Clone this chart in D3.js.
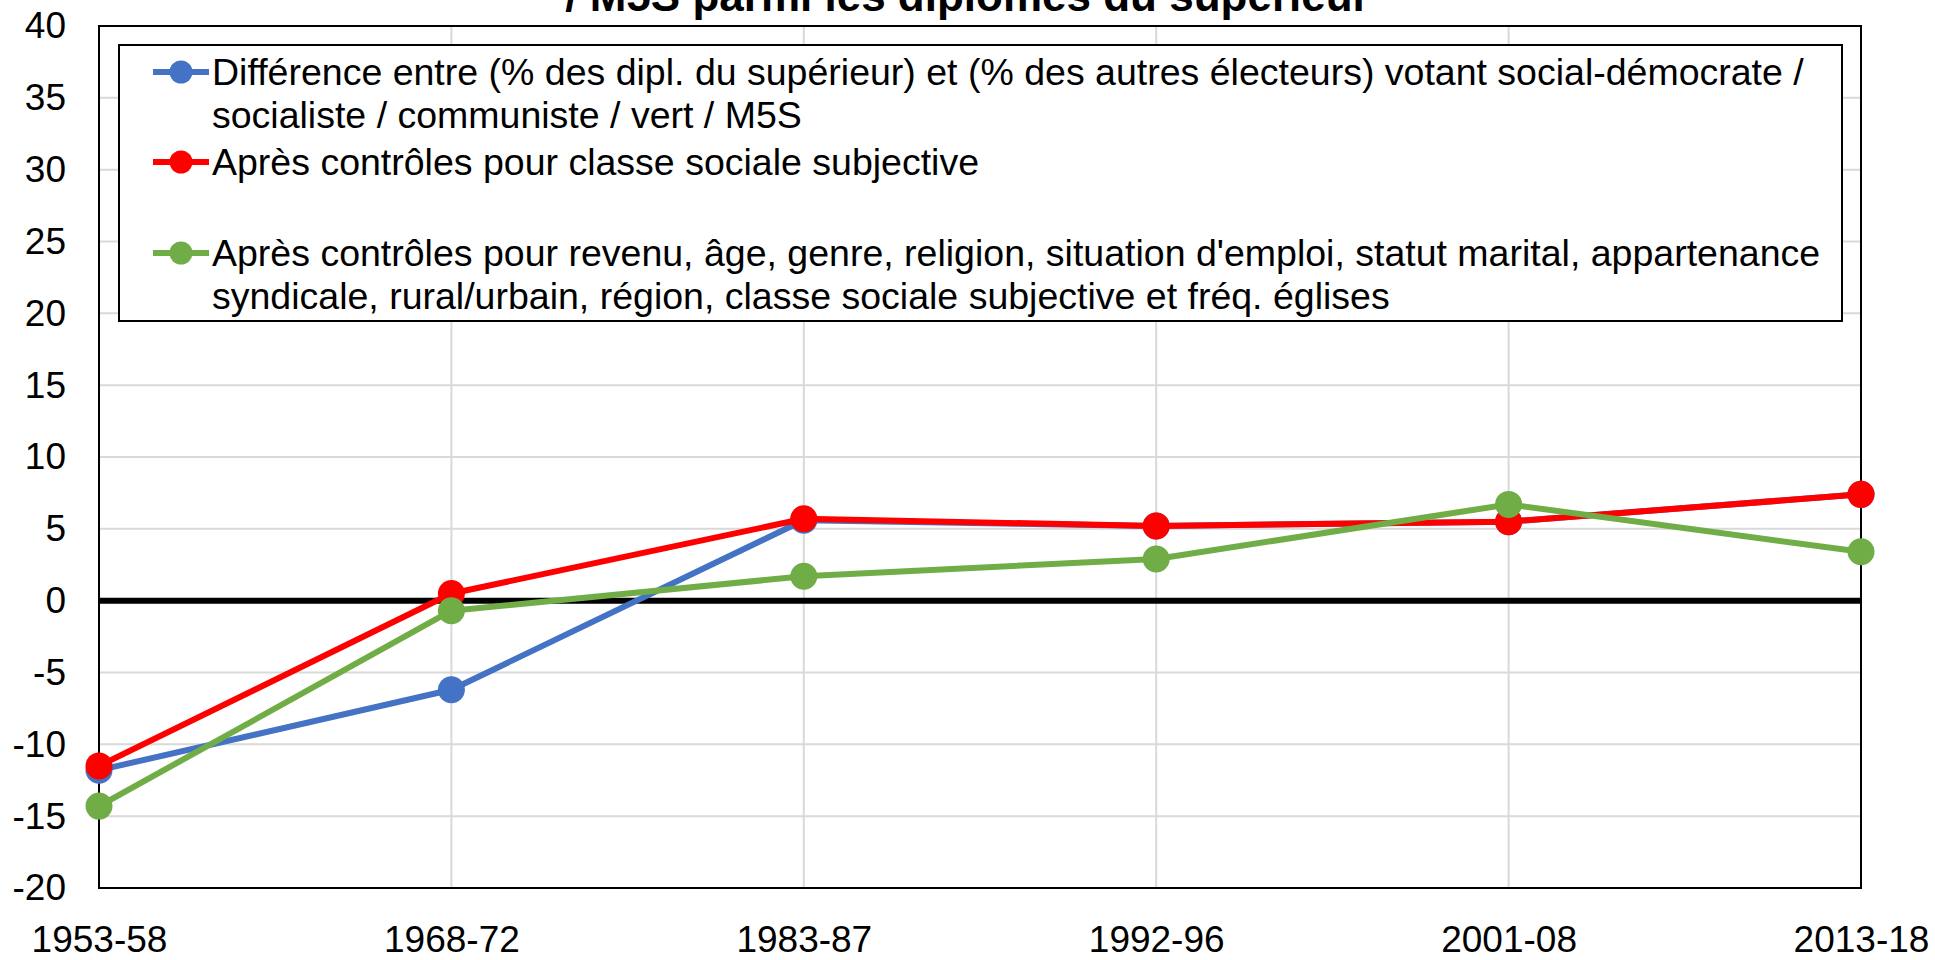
<!DOCTYPE html>
<meta charset="utf-8">
<style>
  body { margin: 0; background: #fff; }
  svg { display: block; font-family: "Liberation Sans", Arial, sans-serif; }
  .grid line { stroke: #d9d9d9; stroke-width: 2; }
  .tick-label { font-size: 37px; fill: #000; }
  .legend text { font-size: 37.5px; fill: #000; }
</style>
<body>
<script src="https://cdnjs.cloudflare.com/ajax/libs/d3/7.8.5/d3.min.js"></script>
<script>
  var periods = ["1953-58", "1968-72", "1983-87", "1992-96", "2001-08", "2013-18"]
  var yTicks = [-20, -15, -10, -5, 0, 5, 10, 15, 20, 25, 30, 35, 40]

  // ecart (points de %) entre dipl. du superieur et autres electeurs
  var brut = [-11.8, -6.2, 5.6, 5.2, 5.5, 7.4]
  var ctrlClasse = [-11.5, 0.5, 5.7, 5.2, 5.5, 7.4]
  var ctrlTout = [-14.3, -0.7, 1.7, 2.9, 6.7, 3.4]

  var titleLines = ["Le vote social-démocrate / socialiste / communiste / vert",
    "/ M5S parmi les diplômés du supérieur"]

  var series = [
    { values: brut, color: "#4472C4",
      label: ["Différence entre (% des dipl. du supérieur) et (% des autres électeurs) votant social-démocrate /",
        "socialiste / communiste / vert / M5S"] },
    { values: ctrlClasse, color: "#FF0000",
      label: ["Après contrôles pour classe sociale subjective"] },
    { values: ctrlTout, color: "#70AD47",
      label: ["Après contrôles pour revenu, âge, genre, religion, situation d'emploi, statut marital, appartenance",
        "syndicale, rural/urbain, région, classe sociale subjective et fréq. églises"] }
  ]

  var width = 1935
  var height = 960
  var margin = { top: 26, right: 74, bottom: 72, left: 99 }

  var svg = d3.select("body").append("svg")
    .attr("width", width)
    .attr("height", height)

  var x = d3.scalePoint()
    .domain(periods)
    .range([margin.left, width - margin.right])

  var y = d3.scaleLinear()
    .domain([-20, 40])
    .range([height - margin.bottom, margin.top])

  // titre (coupe en haut, comme l'original)
  svg.append("g").selectAll("text")
    .data(titleLines)
    .enter().append("text")
    .attr("x", width / 2)
    .attr("y", function (d, i) { return 11 - (titleLines.length - 1 - i) * 50 })
    .attr("text-anchor", "middle")
    .attr("font-size", 44)
    .attr("font-weight", "bold")
    .text(function (d) { return d })

  // grille
  var grid = svg.append("g").attr("class", "grid")
  grid.selectAll(".h")
    .data(yTicks)
    .enter().append("line")
    .attr("x1", x.range()[0]).attr("x2", x.range()[1])
    .attr("y1", function (d) { return y(d) }).attr("y2", function (d) { return y(d) })
  grid.selectAll(".v")
    .data(periods)
    .enter().append("line")
    .attr("x1", function (d) { return x(d) }).attr("x2", function (d) { return x(d) })
    .attr("y1", y(-20)).attr("y2", y(40))

  // cadre
  svg.append("rect")
    .attr("x", x.range()[0]).attr("y", y(40))
    .attr("width", x.range()[1] - x.range()[0])
    .attr("height", y(-20) - y(40))
    .attr("fill", "none")
    .attr("stroke", "#000")
    .attr("stroke-width", 2)

  // ligne zero
  svg.append("line")
    .attr("x1", x.range()[0]).attr("x2", x.range()[1])
    .attr("y1", y(0)).attr("y2", y(0))
    .attr("stroke", "#000")
    .attr("stroke-width", 6)

  // axes
  var yAxis = d3.axisLeft(y).tickValues(yTicks).tickSize(0).tickPadding(33)
    .tickFormat(function (d) { return String(d) })
  svg.append("g")
    .attr("transform", "translate(" + margin.left + ",0)")
    .call(yAxis)
    .call(function (g) { g.select(".domain").remove() })
    .selectAll("text")
    .attr("class", "tick-label")
    .attr("font-family", null)
    .attr("font-size", null)

  var xAxis = d3.axisBottom(x).tickSize(0).tickPadding(38)
  svg.append("g")
    .attr("transform", "translate(0," + y(-20) + ")")
    .call(xAxis)
    .call(function (g) { g.select(".domain").remove() })
    .selectAll("text")
    .attr("class", "tick-label")
    .attr("font-family", null)
    .attr("font-size", null)

  // series
  var line = d3.line()
    .x(function (d, i) { return x(periods[i]) })
    .y(function (d) { return y(d) })

  series.forEach(function (s) {
    var g = svg.append("g")
    g.append("path")
      .datum(s.values)
      .attr("d", line)
      .attr("fill", "none")
      .attr("stroke", s.color)
      .attr("stroke-width", 6)
      .attr("stroke-linejoin", "round")
    g.selectAll("circle")
      .data(s.values)
      .enter().append("circle")
      .attr("cx", function (d, i) { return x(periods[i]) })
      .attr("cy", function (d) { return y(d) })
      .attr("r", 13.5)
      .attr("fill", s.color)
  })

  // legende
  var legend = svg.append("g").attr("class", "legend")
  legend.append("rect")
    .attr("x", 119).attr("y", 45)
    .attr("width", 1723).attr("height", 276)
    .attr("fill", "#fff")
    .attr("stroke", "#000")
    .attr("stroke-width", 2)

  var entryY = [72, 162, 253]
  var lineGap = 43

  series.forEach(function (s, k) {
    var cy = entryY[k]
    legend.append("line")
      .attr("x1", 153).attr("x2", 209)
      .attr("y1", cy).attr("y2", cy)
      .attr("stroke", s.color)
      .attr("stroke-width", 6)
    legend.append("circle")
      .attr("cx", 181).attr("cy", cy).attr("r", 11.5)
      .attr("fill", s.color)
    legend.selectAll(null)
      .data(s.label)
      .enter().append("text")
      .attr("x", 212)
      .attr("y", function (d, i) { return cy + i * lineGap })
      .attr("dy", "0.35em")
      .text(function (d) { return d })
  })
</script>
</body>
